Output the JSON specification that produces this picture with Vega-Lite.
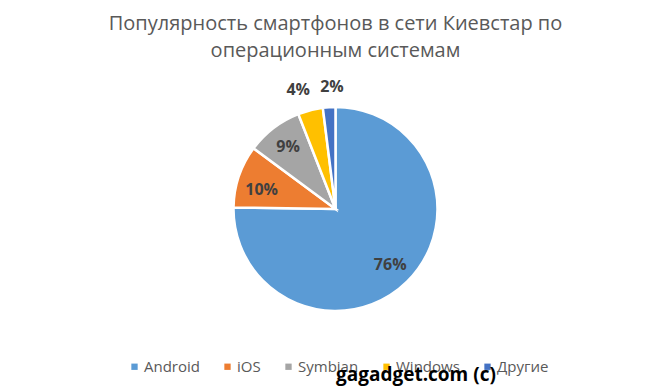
{
  "$schema": "https://vega.github.io/schema/vega-lite/v6.json",
  "autosize": {"type": "fit", "contains": "padding"},
  "width": 671,
  "height": 390,
  "padding": {"top": 14, "bottom": 43, "left": 5, "right": 5},
  "background": "white",
  "title": {
    "text": ["Популярность смартфонов в сети Киевстар по", "операционным системам"],
    "font": "Open Sans",
    "fontSize": 20,
    "fontWeight": "normal",
    "color": "#595959",
    "lineHeight": 27,
    "anchor": "middle",
    "offset": 10
  },
  "config": {"view": {"stroke": null}},
  "data": {
    "values": [
      {"os": "Android", "share": 76, "label": "76%", "idx": 1},
      {"os": "iOS", "share": 10, "label": "10%", "idx": 2},
      {"os": "Symbian", "share": 9, "label": "9%", "idx": 3},
      {"os": "Windows", "share": 4, "label": "4%", "idx": 4},
      {"os": "Другие", "share": 2, "label": "2%", "idx": 5}
    ]
  },
  "encoding": {
    "theta": {"field": "share", "type": "quantitative", "stack": true},
    "order": {"field": "idx", "type": "quantitative"}
  },
  "layer": [
    {
      "mark": {"type": "arc", "outerRadius": 102, "stroke": "white", "strokeWidth": 2.5},
      "encoding": {
        "color": {
          "field": "os",
          "type": "nominal",
          "sort": ["Android", "iOS", "Symbian", "Windows", "Другие"],
          "scale": {
            "domain": ["Android", "iOS", "Symbian", "Windows", "Другие"],
            "range": ["#5B9BD5", "#ED7D31", "#A5A5A5", "#FFC000", "#4472C4"]
          },
          "legend": {
            "orient": "none",
            "legendX": 122,
            "legendY": 288,
            "direction": "horizontal",
            "title": "gagadget.com (c)",
            "titleOrient": "right",
            "titleAnchor": "end",
            "titleFont": "Open Sans",
            "titleFontSize": 19,
            "titleFontWeight": "bold",
            "titleColor": "black",
            "titlePadding": -212,
            "titleBaseline": "middle",
            "labelFont": "Open Sans",
            "labelFontSize": 15,
            "labelColor": "#595959",
            "symbolType": "square",
            "symbolSize": 40,
            "symbolStrokeWidth": 0,
            "columnPadding": 20,
            "labelOffset": 2
          }
        }
      }
    },
    {
      "mark": {"type": "text", "radius": 78, "font": "Open Sans", "fontSize": 16, "fontWeight": "bold", "color": "#404040"},
      "encoding": {"text": {"condition": {"test": "datum.os == 'Android' || datum.os == 'Symbian'", "field": "label"}, "value": ""}}
    },
    {
      "mark": {"type": "text", "radius": 78, "dy": 6, "font": "Open Sans", "fontSize": 16, "fontWeight": "bold", "color": "#404040"},
      "encoding": {"text": {"condition": {"test": "datum.os == 'iOS'", "field": "label"}, "value": ""}}
    },
    {
      "mark": {"type": "text", "radius": 123, "dx": -7, "font": "Open Sans", "fontSize": 16, "fontWeight": "bold", "color": "#404040"},
      "encoding": {"text": {"condition": {"test": "datum.os == 'Windows'", "field": "label"}, "value": ""}}
    },
    {
      "mark": {"type": "text", "radius": 122, "dx": 4, "font": "Open Sans", "fontSize": 16, "fontWeight": "bold", "color": "#404040"},
      "encoding": {"text": {"condition": {"test": "datum.os == 'Другие'", "field": "label"}, "value": ""}}
    }
  ]
}
